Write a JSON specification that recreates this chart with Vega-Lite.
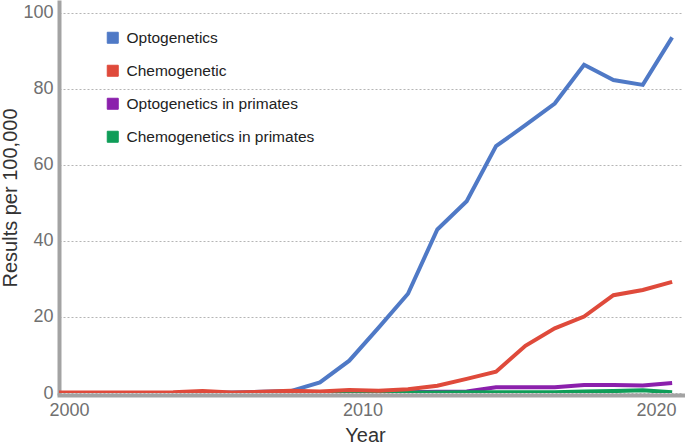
{
  "$schema": "https://vega.github.io/schema/vega-lite/v6.json",
  "autosize": {"type": "none"},
  "padding": {"left": 59, "top": 2, "right": 2, "bottom": 52},
  "width": 624,
  "height": 391,
  "background": "white",
  "config": {
    "font": "Liberation Sans",
    "view": {"stroke": null},
    "axis": {"labelFont": "Liberation Sans", "titleFont": "Liberation Sans"}
  },
  "data": {
    "values": [
      {"year": 1999.55, "series": "Optogenetics", "value": 0},
      {"year": 2000.55, "series": "Optogenetics", "value": 0},
      {"year": 2001.55, "series": "Optogenetics", "value": 0},
      {"year": 2002.55, "series": "Optogenetics", "value": 0},
      {"year": 2003.55, "series": "Optogenetics", "value": 0},
      {"year": 2004.55, "series": "Optogenetics", "value": 0},
      {"year": 2005.55, "series": "Optogenetics", "value": 0.1},
      {"year": 2006.55, "series": "Optogenetics", "value": 0.3},
      {"year": 2007.55, "series": "Optogenetics", "value": 0.5},
      {"year": 2008.55, "series": "Optogenetics", "value": 2.8},
      {"year": 2009.55, "series": "Optogenetics", "value": 8.5},
      {"year": 2010.55, "series": "Optogenetics", "value": 17.2},
      {"year": 2011.55, "series": "Optogenetics", "value": 26.1},
      {"year": 2012.55, "series": "Optogenetics", "value": 43.0},
      {"year": 2013.55, "series": "Optogenetics", "value": 50.4},
      {"year": 2014.55, "series": "Optogenetics", "value": 64.9},
      {"year": 2015.55, "series": "Optogenetics", "value": 70.4},
      {"year": 2016.55, "series": "Optogenetics", "value": 76.1},
      {"year": 2017.55, "series": "Optogenetics", "value": 86.3},
      {"year": 2018.55, "series": "Optogenetics", "value": 82.3},
      {"year": 2019.55, "series": "Optogenetics", "value": 81.0},
      {"year": 2020.55, "series": "Optogenetics", "value": 93.5},

      {"year": 1999.55, "series": "Optogenetics in primates", "value": 0},
      {"year": 2000.55, "series": "Optogenetics in primates", "value": 0},
      {"year": 2001.55, "series": "Optogenetics in primates", "value": 0},
      {"year": 2002.55, "series": "Optogenetics in primates", "value": 0},
      {"year": 2003.55, "series": "Optogenetics in primates", "value": 0},
      {"year": 2004.55, "series": "Optogenetics in primates", "value": 0},
      {"year": 2005.55, "series": "Optogenetics in primates", "value": 0},
      {"year": 2006.55, "series": "Optogenetics in primates", "value": 0},
      {"year": 2007.55, "series": "Optogenetics in primates", "value": 0},
      {"year": 2008.55, "series": "Optogenetics in primates", "value": 0},
      {"year": 2009.55, "series": "Optogenetics in primates", "value": 0},
      {"year": 2010.55, "series": "Optogenetics in primates", "value": 0},
      {"year": 2011.55, "series": "Optogenetics in primates", "value": 0.2},
      {"year": 2012.55, "series": "Optogenetics in primates", "value": 0.3},
      {"year": 2013.55, "series": "Optogenetics in primates", "value": 0.4},
      {"year": 2014.55, "series": "Optogenetics in primates", "value": 1.5},
      {"year": 2015.55, "series": "Optogenetics in primates", "value": 1.5},
      {"year": 2016.55, "series": "Optogenetics in primates", "value": 1.5},
      {"year": 2017.55, "series": "Optogenetics in primates", "value": 2.1},
      {"year": 2018.55, "series": "Optogenetics in primates", "value": 2.1},
      {"year": 2019.55, "series": "Optogenetics in primates", "value": 2.0},
      {"year": 2020.55, "series": "Optogenetics in primates", "value": 2.6},

      {"year": 1999.55, "series": "Chemogenetics in primates", "value": 0},
      {"year": 2000.55, "series": "Chemogenetics in primates", "value": 0},
      {"year": 2001.55, "series": "Chemogenetics in primates", "value": 0},
      {"year": 2002.55, "series": "Chemogenetics in primates", "value": 0},
      {"year": 2003.55, "series": "Chemogenetics in primates", "value": 0},
      {"year": 2004.55, "series": "Chemogenetics in primates", "value": 0},
      {"year": 2005.55, "series": "Chemogenetics in primates", "value": 0},
      {"year": 2006.55, "series": "Chemogenetics in primates", "value": 0},
      {"year": 2007.55, "series": "Chemogenetics in primates", "value": 0},
      {"year": 2008.55, "series": "Chemogenetics in primates", "value": 0},
      {"year": 2009.55, "series": "Chemogenetics in primates", "value": 0},
      {"year": 2010.55, "series": "Chemogenetics in primates", "value": 0},
      {"year": 2011.55, "series": "Chemogenetics in primates", "value": 0.1},
      {"year": 2012.55, "series": "Chemogenetics in primates", "value": 0.1},
      {"year": 2013.55, "series": "Chemogenetics in primates", "value": 0.2},
      {"year": 2014.55, "series": "Chemogenetics in primates", "value": 0.2},
      {"year": 2015.55, "series": "Chemogenetics in primates", "value": 0.2},
      {"year": 2016.55, "series": "Chemogenetics in primates", "value": 0.2},
      {"year": 2017.55, "series": "Chemogenetics in primates", "value": 0.4},
      {"year": 2018.55, "series": "Chemogenetics in primates", "value": 0.5},
      {"year": 2019.55, "series": "Chemogenetics in primates", "value": 0.7},
      {"year": 2020.55, "series": "Chemogenetics in primates", "value": 0.2},

      {"year": 1999.55, "series": "Chemogenetic", "value": 0.1},
      {"year": 2000.55, "series": "Chemogenetic", "value": 0.1},
      {"year": 2001.55, "series": "Chemogenetic", "value": 0.1},
      {"year": 2002.55, "series": "Chemogenetic", "value": 0.1},
      {"year": 2003.55, "series": "Chemogenetic", "value": 0.2},
      {"year": 2004.55, "series": "Chemogenetic", "value": 0.5},
      {"year": 2005.55, "series": "Chemogenetic", "value": 0.1},
      {"year": 2006.55, "series": "Chemogenetic", "value": 0.3},
      {"year": 2007.55, "series": "Chemogenetic", "value": 0.6},
      {"year": 2008.55, "series": "Chemogenetic", "value": 0.4},
      {"year": 2009.55, "series": "Chemogenetic", "value": 0.8},
      {"year": 2010.55, "series": "Chemogenetic", "value": 0.6},
      {"year": 2011.55, "series": "Chemogenetic", "value": 1.0},
      {"year": 2012.55, "series": "Chemogenetic", "value": 1.9},
      {"year": 2013.55, "series": "Chemogenetic", "value": 3.7},
      {"year": 2014.55, "series": "Chemogenetic", "value": 5.6},
      {"year": 2015.55, "series": "Chemogenetic", "value": 12.4},
      {"year": 2016.55, "series": "Chemogenetic", "value": 17.0},
      {"year": 2017.55, "series": "Chemogenetic", "value": 20.1},
      {"year": 2018.55, "series": "Chemogenetic", "value": 25.7},
      {"year": 2019.55, "series": "Chemogenetic", "value": 27.1},
      {"year": 2020.55, "series": "Chemogenetic", "value": 29.2}
    ]
  },
  "mark": {"type": "line", "strokeWidth": 4, "clip": true, "strokeJoin": "miter"},
  "encoding": {
    "x": {
      "field": "year",
      "type": "quantitative",
      "scale": {"domain": [1999.66, 2020.92], "nice": false, "zero": false},
      "axis": {
        "title": "Year",
        "values": [2000, 2010, 2020],
        "format": "d",
        "grid": false,
        "ticks": false,
        "offset": 2,
        "domainColor": "#a3a3a3",
        "domainWidth": 4,
        "domainCap": "square",
        "labelFontSize": 18,
        "labelColor": "#707070",
        "labelPadding": 6,
        "labelFlush": false,
        "titleFontSize": 20,
        "titleFontWeight": "normal",
        "titleColor": "#333333",
        "titlePadding": 6,
        "titleX": 306
      }
    },
    "y": {
      "field": "value",
      "type": "quantitative",
      "scale": {"domain": [0, 102.8], "nice": false},
      "axis": {
        "title": "Results per 100,000",
        "values": [0, 20, 40, 60, 80, 100],
        "grid": true,
        "gridColor": "#b5b5b5",
        "gridDash": [2, 2],
        "gridWidth": 1,
        "ticks": false,
        "domainColor": "#a3a3a3",
        "domainWidth": 4,
        "domainCap": "square",
        "labelFontSize": 18,
        "labelColor": "#707070",
        "labelPadding": 6,
        "titleFontSize": 20,
        "titleFontWeight": "normal",
        "titleColor": "#333333",
        "titlePadding": 2
      }
    },
    "color": {
      "field": "series",
      "type": "nominal",
      "scale": {
        "domain": ["Optogenetics", "Chemogenetic", "Optogenetics in primates", "Chemogenetics in primates"],
        "range": ["#4f79c6", "#df4a3b", "#8b20ac", "#0f9d58"]
      },
      "legend": {
        "title": null,
        "orient": "none",
        "legendX": 46,
        "legendY": 28,
        "padding": 0,
        "symbolType": "square",
        "symbolSize": 121,
        "symbolStrokeWidth": 1,
        "symbolOpacity": 1,
        "labelFontSize": 15.5,
        "labelColor": "#222222",
        "labelOffset": 6,
        "labelLimit": 0,
        "rowPadding": 16,
        "labelFont": "Liberation Sans",
        "encode": {
          "symbols": {
            "update": {
              "fill": {"scale": "color", "field": "value"},
              "stroke": {"scale": "color", "field": "value"},
              "strokeWidth": {"value": 1},
              "opacity": {"value": 1}
            }
          }
        }
      }
    }
  }
}
